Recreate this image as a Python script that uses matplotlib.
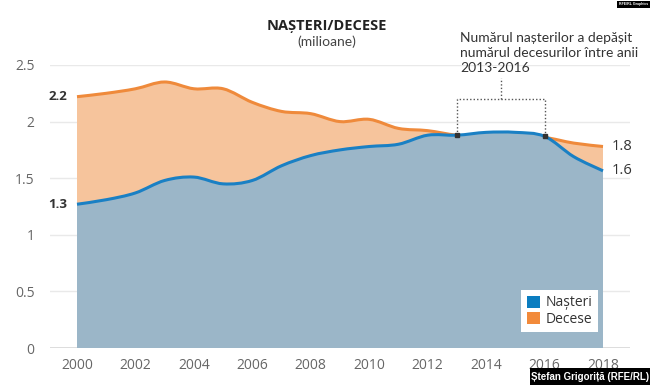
import matplotlib
matplotlib.use('Agg')
import matplotlib.pyplot as plt
from matplotlib.path import Path
from matplotlib.patches import PathPatch, Patch, Rectangle

plt.rcParams['font.family'] = ['Open Sans', 'DejaVu Sans']

years = list(range(2000, 2019))
nasteri = [1.27, 1.31, 1.37, 1.48, 1.51, 1.45, 1.48, 1.61, 1.70, 1.75, 1.78,
           1.80, 1.88, 1.88, 1.905, 1.905, 1.87, 1.69, 1.565]
decese = [2.22, 2.25, 2.29, 2.35, 2.29, 2.29, 2.17, 2.09, 2.07, 2.00, 2.02,
          1.94, 1.92, 1.88, 1.87, 1.87, 1.86, 1.81, 1.78]
yticks = [0, 0.5, 1, 1.5, 2, 2.5]
ytick_labels = ['0', '0.5', '1', '1.5', '2', '2.5']
xticks = list(range(2000, 2019, 2))
span_years = (2013, 2016)

BLUE_LINE = '#1a80c4'
BLUE_FILL = '#9bb6c8'
ORANGE_LINE = '#ef8a3b'
ORANGE_FILL = '#f6c49c'
NARROW = ['Lato', 'DejaVu Sans']


def smooth(xs, ys):
    # catmull-rom style bezier through the data points
    verts = [(xs[0], ys[0])]
    codes = [Path.LINETO]
    n = len(xs)
    for i in range(n - 1):
        i0 = max(i - 1, 0)
        i3 = min(i + 2, n - 1)
        c1 = (xs[i] + (xs[i + 1] - xs[i0]) / 6, ys[i] + (ys[i + 1] - ys[i0]) / 6)
        c2 = (xs[i + 1] - (xs[i3] - xs[i]) / 6, ys[i + 1] - (ys[i3] - ys[i]) / 6)
        verts += [c1, c2, (xs[i + 1], ys[i + 1])]
        codes += [Path.CURVE4] * 3
    return verts, codes


def draw_series(ax, xs, ys, fill, line, z):
    v, c = smooth(xs, ys)
    fv = [(xs[0], 0)] + v + [(xs[-1], 0), (xs[0], 0)]
    fc = [Path.MOVETO] + c + [Path.LINETO, Path.CLOSEPOLY]
    ax.add_patch(PathPatch(Path(fv, fc), facecolor=fill, edgecolor='none', zorder=z))
    lc = [Path.MOVETO] + c[1:]
    ax.add_patch(PathPatch(Path(v, lc), facecolor='none', edgecolor=line,
                           lw=2.2, capstyle='butt', zorder=z + 1))


fig = plt.figure(figsize=(6.5, 3.85), dpi=100)
ax = fig.add_axes([50 / 650, 37 / 385, 580 / 650, 283 / 385])

draw_series(ax, years, decese, ORANGE_FILL, ORANGE_LINE, 2)
draw_series(ax, years, nasteri, BLUE_FILL, BLUE_LINE, 4)

px = 1 / 29.22
ax.set_xlim(2000 - 27 * px, 2018 + 27 * px)
ax.set_ylim(0, 2.5)
ax.set_xticks(xticks)
ax.set_yticks(yticks)
ax.set_yticklabels(ytick_labels)
ax.tick_params(length=0, labelsize=10, labelcolor='#666666')
ax.tick_params(axis='y', pad=11)
ax.tick_params(axis='x', pad=7)
ax.grid(axis='y', color='#e9e9e9', lw=1)
ax.set_axisbelow(True)
for s in ax.spines.values():
    s.set_visible(False)
ax.axhline(0, color='#d8d8d8', lw=1.2, zorder=1)

# end labels
ax.annotate(f'{decese[0]:.1f}', (years[0], decese[0]), xytext=(-7, 0),
            textcoords='offset points', ha='right', va='center',
            fontsize=9.5, fontweight='bold', color='#333333')
ax.annotate(f'{nasteri[0]:.1f}', (years[0], nasteri[0]), xytext=(-7, 0),
            textcoords='offset points', ha='right', va='center',
            fontsize=9.5, fontweight='bold', color='#333333')
ax.annotate(f'{decese[-1]:.1f}', (years[-1], decese[-1]), xytext=(6, 0),
            textcoords='offset points', ha='left', va='center',
            fontsize=10.5, color='#333333')
ax.annotate(f'{nasteri[-1]:.1f}', (years[-1], nasteri[-1]), xytext=(6, 0),
            textcoords='offset points', ha='left', va='center',
            fontsize=10.5, color='#333333')

# bracket 2013-2016
a, b = span_years
ya = nasteri[years.index(a)]
yb = nasteri[years.index(b)]
top = 2.2
mid = (a + b) / 2
dot_kw = dict(color='#555555', lw=1, ls=(0, (1, 1.5)), zorder=6, clip_on=False)
ax.plot([a, a, b, b], [ya, top, top, yb], **dot_kw)
ax.plot([mid, mid], [top, 2.385], **dot_kw)
ax.plot([a, b], [ya, yb], 's', color='#333333', ms=3, zorder=7)

fig.text(460 / 650, 1 - 32 / 385,
         'Numărul nașterilor a depășit\nnumărul decesurilor între anii\n2013-2016',
         ha='left', va='top', fontsize=10, color='#333333', linespacing=1.3,
         family=NARROW)

fig.text(327 / 650, 1 - 26 / 385, 'NAȘTERI/DECESE', ha='center', va='center',
         fontsize=10.5, fontweight='bold', color='#222222')
fig.text(327 / 650, 1 - 42 / 385, '(milioane)', ha='center', va='center',
         fontsize=10, color='#444444', family=NARROW)

handles = [Patch(facecolor='#0b7dc0', label='Nașteri'),
           Patch(facecolor='#f28a3a', label='Decese')]
leg = ax.legend(handles=handles, loc='upper left',
                bbox_to_anchor=(514 / 650, 1 - 283 / 385), bbox_transform=fig.transFigure,
                fontsize=10, frameon=True, fancybox=False, framealpha=1,
                edgecolor='none', handlelength=1.0, handleheight=1.0,
                handletextpad=0.4, labelspacing=0.1, borderpad=0.4)
leg.set_zorder(10)
for t in leg.get_texts():
    t.set_color('#333333')

# credits
fig.patches.append(Rectangle((530 / 650, 0), 120 / 650, 17 / 385,
                             transform=fig.transFigure, facecolor='black', zorder=20))
fig.text(590 / 650, 8.5 / 385, 'Ștefan Grigoriță (RFE/RL)', ha='center', va='center',
         fontsize=7, fontweight='bold', color='white', zorder=21,
         family=['Liberation Sans', 'DejaVu Sans'])
fig.patches.append(Rectangle((617 / 650, 1 - 8 / 385), 33 / 650, 7 / 385,
                             transform=fig.transFigure, facecolor='black', zorder=20))
fig.text(633.5 / 650, 1 - 4.5 / 385, 'RFE/RL Graphics', ha='center', va='center',
         fontsize=2.5, fontweight='bold', color='white', zorder=21,
         family=['Liberation Sans', 'DejaVu Sans'])

fig.savefig('out.png', dpi=100)
plt.close(fig)
